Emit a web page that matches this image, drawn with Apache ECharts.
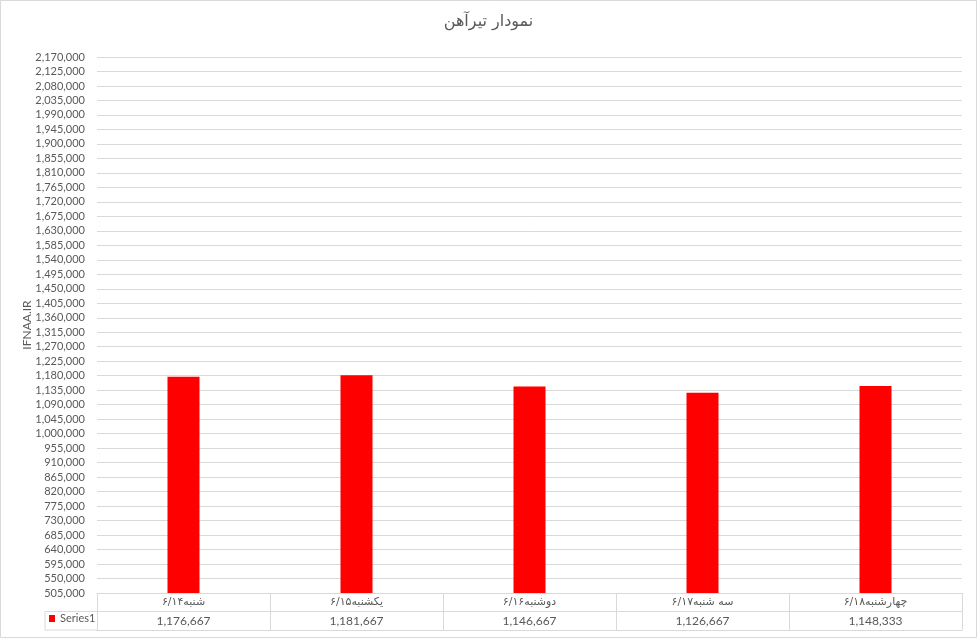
<!DOCTYPE html>
<html><head><meta charset="utf-8">
<script src="https://cdn.jsdelivr.net/npm/echarts@6/dist/echarts.min.js"></script>
<style>html,body{margin:0;padding:0;background:#fff}#c{width:977px;height:638px}</style>
</head><body><div id="c"></div>
<script>
const chartTitle = 'نمودار تیرآهن';
const axisName = 'IFNAA.IR';
const seriesName = 'Series1';
const categories = ['شنبه۶/۱۴', 'یکشنبه۶/۱۵', 'دوشنبه۶/۱۶', 'سه شنبه۶/۱۷', 'چهارشنبه۶/۱۸'];
const values = [1176667, 1181667, 1146667, 1126667, 1148333];
const yTicks = [505000, 550000, 595000, 640000, 685000, 730000, 775000, 820000, 865000, 910000,
  955000, 1000000, 1045000, 1090000, 1135000, 1180000, 1225000, 1270000, 1315000, 1360000,
  1405000, 1450000, 1495000, 1540000, 1585000, 1630000, 1675000, 1720000, 1765000, 1810000,
  1855000, 1900000, 1945000, 1990000, 2035000, 2080000, 2125000, 2170000];

const fmt = v => Number(v).toLocaleString('en-US');
const FONT = 'Lato, "DejaVu Sans", sans-serif';
const TXT = '#595959', LINE = '#d9d9d9';
const W = 977, H = 638;
const gridL = 97, gridR = 15, gridT = 57, gridB = 45;
const rowH = 18.5;
const baseY = H - gridB;

const chart = echarts.init(document.getElementById('c'), null, {renderer: 'canvas'});
const option = {
  animation: false,
  backgroundColor: '#fff',
  textStyle: {fontFamily: FONT},
  title: {
    text: chartTitle, left: 'center', top: 9,
    textStyle: {fontSize: 16, fontWeight: 'normal', color: TXT, fontFamily: '"DejaVu Sans", sans-serif'}
  },
  legend: {
    data: [{name: seriesName, icon: 'rect'}],
    left: 49, top: baseY + rowH + 1.5, padding: 0,
    itemWidth: 6, itemHeight: 7, itemGap: 4,
    textStyle: {fontSize: 11, color: TXT, fontFamily: FONT}
  },
  grid: {left: gridL, right: gridR, top: gridT, bottom: gridB, containLabel: false, outerBoundsMode: 'none'},
  xAxis: [
    {
      type: 'category', data: categories, position: 'bottom',
      axisLine: {show: true, lineStyle: {color: LINE}},
      axisTick: {show: true, alignWithLabel: false, length: rowH * 2, lineStyle: {color: LINE}},
      axisLabel: {interval: 0, margin: 4, fontSize: 11, color: TXT, fontFamily: '"DejaVu Sans", sans-serif'}
    },
    {
      type: 'category', data: categories, position: 'bottom', offset: rowH,
      axisLine: {show: true, lineStyle: {color: LINE}},
      axisTick: {show: false},
      axisLabel: {interval: 0, margin: 4, fontSize: 12, color: TXT, fontFamily: FONT,
        formatter: (v, i) => fmt(values[i])}
    },
    {
      type: 'category', data: categories, position: 'bottom', offset: rowH * 2,
      axisLine: {show: true, lineStyle: {color: LINE}},
      axisTick: {show: false}, axisLabel: {show: false}
    }
  ],
  yAxis: {
    type: 'value', min: yTicks[0], max: yTicks[yTicks.length - 1], startValue: yTicks[0],
    name: axisName, nameLocation: 'middle', nameRotate: 90, nameGap: 64, nameMoveOverlap: false,
    nameTextStyle: {fontSize: 12, color: TXT, fontFamily: FONT},
    axisLine: {show: false},
    axisTick: {show: false, customValues: yTicks},
    axisLabel: {customValues: yTicks, margin: 12, fontSize: 11, color: TXT, fontFamily: FONT, formatter: v => fmt(v)},
    splitLine: {show: true, lineStyle: {color: LINE, width: 1}}
  },
  series: [{
    name: seriesName, type: 'bar', data: values, barWidth: 32,
    itemStyle: {color: '#ff0000'}, xAxisIndex: 0, yAxisIndex: 0
  }],
  graphic: [
    {type: 'rect', silent: true, shape: {x: 0.5, y: 0.5, width: W - 1, height: H - 1},
     style: {fill: 'none', stroke: LINE, lineWidth: 1}},
    {type: 'line', silent: true, shape: {x1: 45, y1: baseY + rowH, x2: gridL, y2: baseY + rowH}, style: {stroke: LINE, lineWidth: 1}},
    {type: 'line', silent: true, shape: {x1: 45, y1: baseY + rowH * 2, x2: gridL, y2: baseY + rowH * 2}, style: {stroke: LINE, lineWidth: 1}},
    {type: 'line', silent: true, shape: {x1: 45, y1: baseY + rowH, x2: 45, y2: baseY + rowH * 2}, style: {stroke: LINE, lineWidth: 1}}
  ]
};
chart.setOption(option);
</script></body></html>
